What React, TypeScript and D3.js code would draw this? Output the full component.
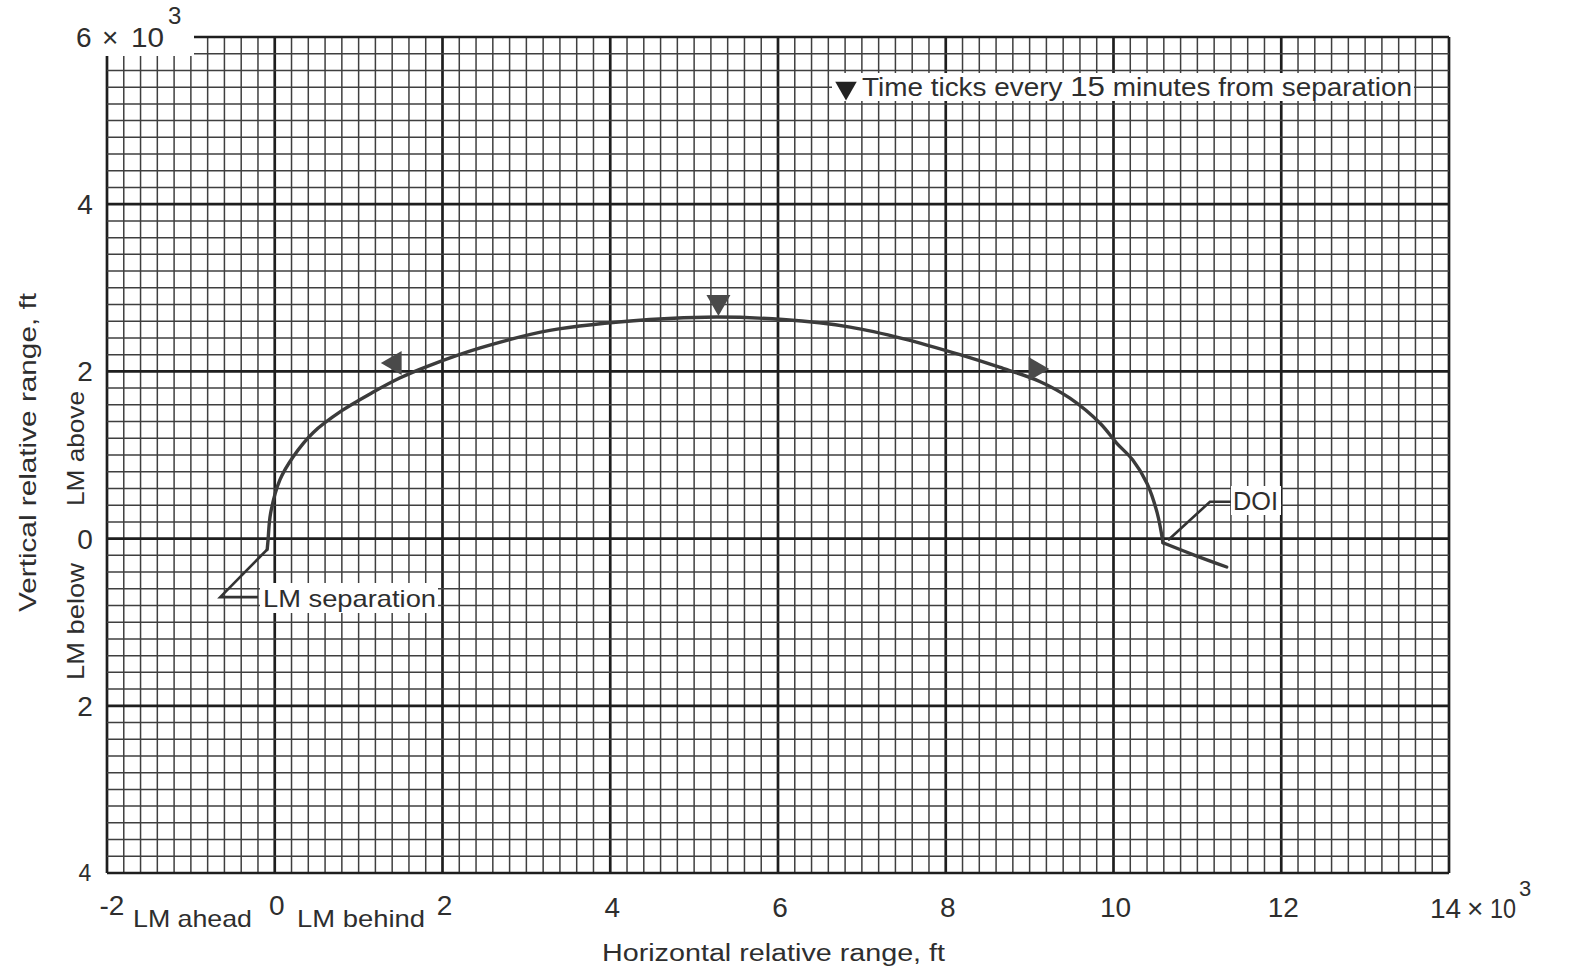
import React, { useEffect } from "react";
import * as d3 from "d3";

const W = 1573;
const H = 977;

// axis definitions (values in thousands of ft)
const xDomain = [-2, 14];
const yDomain = [-4, 6];
const xTickValues = [-2, 0, 2, 4, 6, 8, 10, 12, 14];
const xTickLabels = ["-2", "0", "2", "4", "6", "8", "10", "12", "14"];
const yTickValues = [6, 4, 2, 0, -2, -4];
const yTickLabels = ["6", "4", "2", "0", "2", "4"];

// relative trajectory, LM separation -> DOI
const trajX = [-0.09, -0.08, -0.05, 0.06, 0.22, 0.46, 0.8, 1.17, 1.49, 1.82, 2.45, 3.28, 4.47, 5.27, 6.06, 6.86, 7.5, 8.17, 8.64, 9.12, 9.48, 9.84, 10.04, 10.23, 10.4, 10.52, 10.59];
const trajY = [-0.13, -0.02, 0.3, 0.7, 0.98, 1.27, 1.53, 1.75, 1.92, 2.06, 2.28, 2.49, 2.62, 2.65, 2.62, 2.53, 2.39, 2.2, 2.05, 1.88, 1.68, 1.38, 1.14, 0.94, 0.66, 0.31, -0.05];
// after DOI
const tailX = [10.59, 10.97, 11.35];
const tailY = [-0.05, -0.2, -0.34];

// 15-minute time ticks
const timeTickX = [1.43, 5.29, 9.07];
const timeTickY = [2.1, 2.83, 2.03];
const timeTickAngle = [-90, 180, 90];

// annotation leaders
const sepLeaderX = [-0.09, -0.65, -0.2];
const sepLeaderY = [-0.13, -0.7, -0.7];
const doiLeaderX = [10.65, 11.15, 11.41];
const doiLeaderY = [-0.02, 0.44, 0.44];

const FONT = "'Liberation Sans', Arial, sans-serif";
const INK = "#2e2e2e";

export default function App() {
  useEffect(() => {
    document.body.style.margin = "0";
    document.body.style.background = "#fff";
  }, []);

  const x = d3.scaleLinear().domain(xDomain).range([107, 1449]);
  const y = d3.scaleLinear().domain(yDomain).range([873, 37]);

  const minorX = d3.range(0, 81).map((i) => ({ v: xDomain[0] + i * 0.2, major: i % 10 === 0 }));
  const minorY = d3.range(0, 51).map((i) => ({ v: yDomain[0] + i * 0.2, major: i % 10 === 0 }));

  const line = d3
    .line<[number, number]>()
    .x((d) => x(d[0]))
    .y((d) => y(d[1]))
    .curve(d3.curveCatmullRom.alpha(0.5));
  const straight = d3
    .line<[number, number]>()
    .x((d) => x(d[0]))
    .y((d) => y(d[1]));

  const traj = trajX.map((v, i) => [v, trajY[i]] as [number, number]);
  const tail = tailX.map((v, i) => [v, tailY[i]] as [number, number]);
  const sepLeader = sepLeaderX.map((v, i) => [v, sepLeaderY[i]] as [number, number]);
  const doiLeader = doiLeaderX.map((v, i) => [v, doiLeaderY[i]] as [number, number]);
  const tri = d3.symbol().type(d3.symbolTriangle).size(250)();
  const legendTri = d3.symbol().type(d3.symbolTriangle).size(200)();

  return (
    <svg width={W} height={H} style={{ display: "block", background: "#fff" }} fontFamily={FONT}>
      <rect x={0} y={0} width={W} height={H} fill="#fff" />
      {/* grid */}
      <g>
        {minorX.map((d, i) => (
          <line
            key={"gx" + i}
            x1={x(d.v)}
            x2={x(d.v)}
            y1={y(yDomain[0])}
            y2={y(yDomain[1])}
            stroke={d.major ? "#1e1e1e" : "#3f3f3f"}
            strokeWidth={d.major ? 2.7 : 1.5}
          />
        ))}
        {minorY.map((d, i) => (
          <line
            key={"gy" + i}
            x1={x(xDomain[0])}
            x2={x(xDomain[1])}
            y1={y(d.v)}
            y2={y(d.v)}
            stroke={d.major ? "#1e1e1e" : "#3f3f3f"}
            strokeWidth={d.major ? 2.7 : 1.5}
          />
        ))}
      </g>
      {/* blank corner behind the exponent label */}
      <rect x={98} y={0} width={96} height={56} fill="#fff" />

      {/* legend */}
      <rect x={832} y={73} width={582} height={28} fill="#fff" />
      <path d={legendTri} transform={`translate(846,88) rotate(180)`} fill="#222" />
      <text x={862} y={96} fontSize={25} fill={INK} textLength={550} lengthAdjust="spacingAndGlyphs">
        Time ticks every <tspan fontSize={28}>15</tspan> minutes from separation
      </text>

      {/* trajectory */}
      <path d={line(traj) || ""} fill="none" stroke="#3b3b3b" strokeWidth={3.4} strokeLinejoin="round" strokeLinecap="round" />
      <path d={line(tail) || ""} fill="none" stroke="#3b3b3b" strokeWidth={3.4} strokeLinecap="round" />

      {/* time ticks */}
      {timeTickX.map((v, i) => (
        <path
          key={"tt" + i}
          d={tri}
          transform={`translate(${x(v)},${y(timeTickY[i])}) rotate(${timeTickAngle[i]})`}
          fill="#4a4a4a"
        />
      ))}

      {/* annotations */}
      <path d={straight(sepLeader) || ""} fill="none" stroke="#333" strokeWidth={2.6} />
      <rect x={260} y={583} width={178} height={30} fill="#fff" />
      <text x={263} y={607} fontSize={24} fill={INK} textLength={173} lengthAdjust="spacingAndGlyphs">
        LM separation
      </text>
      <path d={straight(doiLeader) || ""} fill="none" stroke="#333" strokeWidth={2.6} />
      <rect x={1231} y={486} width={50} height={29} fill="#fff" />
      <text x={1233} y={510} fontSize={25} fill={INK} textLength={45} lengthAdjust="spacingAndGlyphs">
        DOI
      </text>

      {/* y tick labels */}
      {yTickValues.map((v, i) =>
        i === 0 ? (
          <g key={"yl" + i} fontSize={28} fill={INK}>
            <text x={76} y={y(v) + 10}>{yTickLabels[i]}</text>
            <text x={102} y={y(v) + 10}>×</text>
            <text x={131} y={y(v) + 10} textLength={33} lengthAdjust="spacingAndGlyphs">10</text>
            <text x={168} y={y(v) - 13} fontSize={24}>3</text>
          </g>
        ) : (
          <text
            key={"yl" + i}
            x={85}
            y={y(v) + (i === yTickValues.length - 1 ? 8 : 10)}
            fontSize={i === yTickValues.length - 1 ? 23 : 28}
            textAnchor="middle"
            fill={INK}
          >
            {yTickLabels[i]}
          </text>
        )
      )}

      {/* x tick labels */}
      {xTickValues.map((v, i) =>
        i === xTickValues.length - 1 ? (
          <g key={"xl" + i} fontSize={28} fill={INK}>
            <text x={1430} y={918}>{xTickLabels[i]}</text>
            <text x={1467} y={918}>×</text>
            <text x={1490} y={918} textLength={26} lengthAdjust="spacingAndGlyphs">10</text>
            <text x={1519} y={896} fontSize={22}>3</text>
          </g>
        ) : (
          <text key={"xl" + i} x={x(v) + (i === 0 ? 5 : 2)} y={i < 3 ? 915 : 917} fontSize={28} textAnchor="middle" fill={INK}>
            {xTickLabels[i]}
          </text>
        )
      )}

      {/* axis direction labels */}
      <text x={133} y={927} fontSize={24} fill={INK} textLength={119} lengthAdjust="spacingAndGlyphs">LM ahead</text>
      <text x={297} y={927} fontSize={24} fill={INK} textLength={128} lengthAdjust="spacingAndGlyphs">LM behind</text>
      <text x={602} y={961} fontSize={23} fill={INK} textLength={343} lengthAdjust="spacingAndGlyphs">
        Horizontal relative range, ft
      </text>

      <text transform="translate(36,612) rotate(-90)" fontSize={24} fill={INK} textLength={319} lengthAdjust="spacingAndGlyphs">
        Vertical relative range, ft
      </text>
      <text transform="translate(84,506) rotate(-90)" fontSize={24} fill={INK} textLength={115} lengthAdjust="spacingAndGlyphs">
        LM above
      </text>
      <text transform="translate(84,680) rotate(-90)" fontSize={24} fill={INK} textLength={117} lengthAdjust="spacingAndGlyphs">
        LM below
      </text>
    </svg>
  );
}
